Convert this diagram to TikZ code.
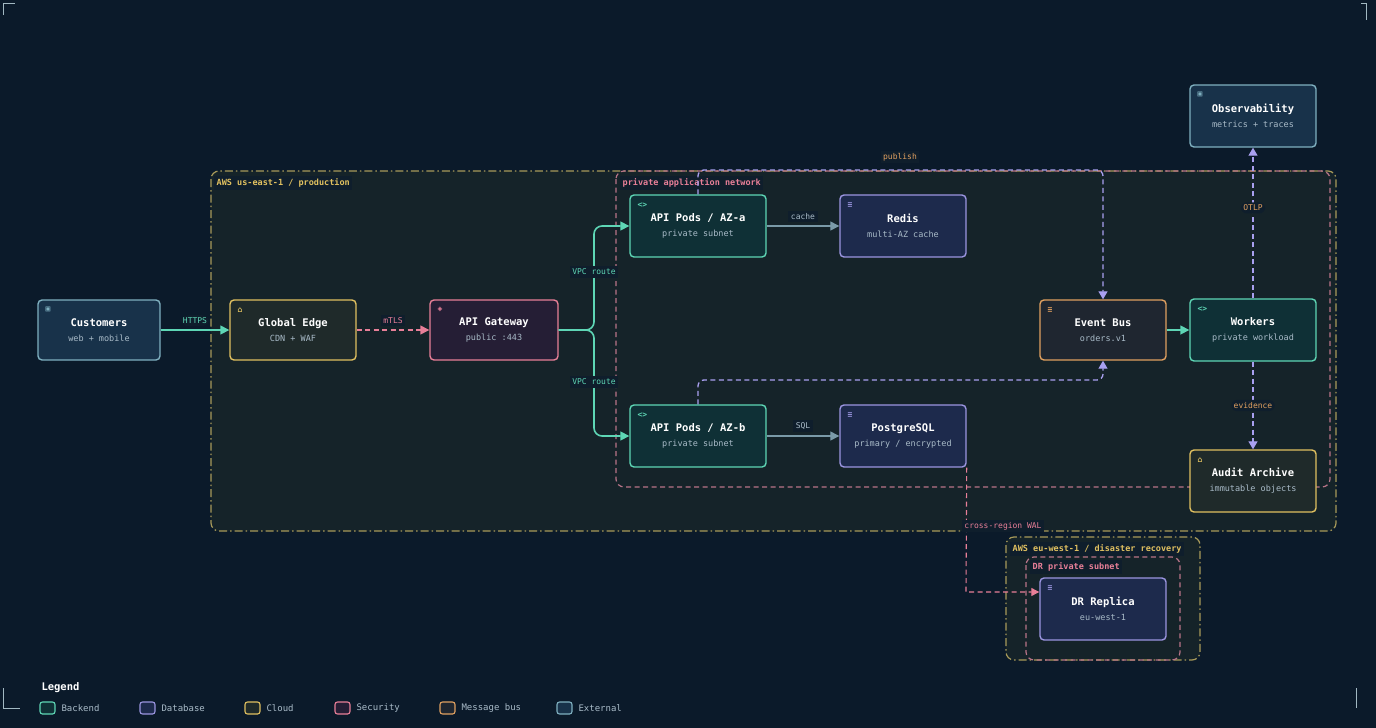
\documentclass[tikz,border=0pt]{standalone}
\usepackage{fontspec}
\setmonofont{DejaVu Sans Mono}
\usetikzlibrary{arrows.meta}
\usetikzlibrary{backgrounds}
\definecolor{bg}{HTML}{0B1A2A}
\definecolor{zone}{HTML}{152329}
\definecolor{lblbg}{HTML}{0F1E2C}
\definecolor{bkS}{HTML}{5ED6B5}\definecolor{bkF}{HTML}{0F3036}
\definecolor{dbS}{HTML}{9B95E0}\definecolor{dbF}{HTML}{1D2A4C}
\definecolor{clS}{HTML}{E0C060}\definecolor{clF}{HTML}{1F2A2A}
\definecolor{seS}{HTML}{E87F98}\definecolor{seF}{HTML}{251E35}
\definecolor{mbS}{HTML}{E0A060}\definecolor{mbF}{HTML}{1F2630}
\definecolor{exS}{HTML}{7FB0C0}\definecolor{exF}{HTML}{18324A}
\definecolor{linkS}{HTML}{7A9AA8}
\definecolor{evS}{HTML}{A9A0F0}
\definecolor{subT}{HTML}{A9BBC8}
\definecolor{zoneY}{HTML}{A89A5A}
\definecolor{zoneP}{HTML}{B87488}
\tikzset{
  box/.style={draw, rounded corners=4pt, line width=1.4pt, minimum width=#1, minimum height=60pt, align=center, text=white, font=\ttfamily\fontsize{10.5}{12}\selectfont\bfseries},
  box/.default=126pt,
  backend/.style={box=136pt, minimum height=62pt, draw=bkS, fill=bkF},
  database/.style={box, minimum height=62pt, draw=dbS, fill=dbF},
  cloud/.style={box, draw=clS, fill=clF},
  security/.style={box=128pt, draw=seS, fill=seF},
  msgbus/.style={box, draw=mbS, fill=mbF},
  external/.style={box=122pt, draw=exS, fill=exF},
  lbl/.style={fill=lblbg, inner sep=2.5pt, font=\ttfamily\fontsize{8}{9}\selectfont},
  zonelbl/.style={fill=lblbg, inner sep=2.5pt, anchor=north west, font=\ttfamily\fontsize{8.5}{10}\selectfont\bfseries},
  dsh/.style={dash pattern=on 5pt off 3.5pt},
  dshdot/.style={dash pattern=on 8pt off 3pt on 1.5pt off 3pt},
  flow/.style={line width=1.6pt, draw=bkS, -{Triangle[length=9pt,width=9pt]}, rounded corners=8pt},
  event/.style={line width=1.3pt, draw=evS, dsh, -{Triangle[length=8pt,width=9pt]}, rounded corners=6pt},
  icon/.style={font=\ttfamily\fontsize{8}{8}\selectfont\bfseries, inner sep=0pt}
}
\newcommand{\sub}[1]{\\[3pt]{\fontsize{8.5}{10}\selectfont\mdseries\color{subT}#1}}
\begin{document}
\begin{tikzpicture}[x=1pt,y=-1pt]
  \fill[bg] (0,0) rectangle (1376,728);
  \useasboundingbox (0,0) rectangle (1376,728);
  % frame corners
  \draw[linkS!70, line width=0.6pt] (3,15) -- (3,3) -- (15,3);
  \draw[linkS!70, line width=0.6pt] (1361,3) -- (1366,3) -- (1366,20);
  \draw[linkS!70, line width=0.6pt] (3,688) -- (3,708) -- (20,708);
  \draw[linkS!70, line width=0.6pt] (1356,708) -- (1356,688);
  % zones
  \draw[zoneY, fill=zone, line width=1.2pt, dshdot, rounded corners=8pt] (211,171) rectangle (1336,531);
  \draw[zoneP, line width=1.2pt, dsh, rounded corners=8pt] (616,171) rectangle (1330,487);
  \draw[zoneY, fill=zone, line width=1.2pt, dshdot, rounded corners=8pt] (1006,537) rectangle (1200,660);
  \draw[zoneP, line width=1.2pt, dsh, rounded corners=8pt] (1026,557) rectangle (1180,660);
  \node[zonelbl, text=clS] (zprod) at (214,176) {AWS us-east-1 / production};
  \node[zonelbl, text=seS] (zpriv) at (620,176) {private application network};
  \node[zonelbl, text=clS] (zdr) at (1010,542) {AWS eu-west-1 / disaster recovery};
  \node[zonelbl, text=seS] (zdrsub) at (1030,560) {DR private subnet};

  % nodes
  \node[external] (cust) at (99,330) {Customers\sub{web + mobile}};
  \node[cloud] (edge) at (293,330) {Global Edge\sub{CDN + WAF}};
  \node[security] (gw) at (494,330) {API Gateway\sub{public :443}};
  \node[backend] (poda) at (698,226) {API Pods / AZ-a\sub{private subnet}};
  \node[database] (redis) at (903,226) {Redis\sub{multi-AZ cache}};
  \node[backend] (podb) at (698,436) {API Pods / AZ-b\sub{private subnet}};
  \node[database] (pg) at (903,436) {PostgreSQL\sub{primary / encrypted}};
  \node[msgbus] (bus) at (1103,330) {Event Bus\sub{orders.v1}};
  \node[backend, minimum width=126pt] (work) at (1253,330) {Workers\sub{private workload}};
  \node[external, minimum width=126pt, minimum height=62pt] (obs) at (1253,116) {Observability\sub{metrics + traces}};
  \node[cloud, minimum height=62pt] (audit) at (1253,481) {Audit Archive\sub{immutable objects}};
  \node[database] (dr) at (1103,609) {DR Replica\sub{eu-west-1}};

  % icons
  \foreach \n/\c/\g in {cust/exS/{\char"25A3}, edge/clS/{\char"2302}, gw/seS/{\char"25C8}, poda/bkS/{<>}, redis/dbS/{\char"2261}, podb/bkS/{<>}, pg/dbS/{\char"2261}, bus/mbS/{\char"2261}, work/bkS/{<>}, obs/exS/{\char"25A3}, audit/clS/{\char"2302}, dr/dbS/{\char"2261}}
    \node[icon, text=\c, anchor=north west] at ([shift={(8pt,-8pt)}]\n.north west) {\g};

  % connectors
  \draw[flow] (cust) -- node[lbl, text=bkS, above=3pt] {HTTPS} (edge);
  \draw[line width=1.4pt, draw=seS, dsh, -{Triangle[length=9pt,width=9pt]}] (edge) -- node[lbl, text=seS, above=3pt] {mTLS} (gw);
  \draw[flow] (gw.east) -| (594,280) |- (poda.west);
  \draw[flow] (gw.east) -| (594,380) |- (podb.west);
  \node[lbl, text=bkS] (lvpca) at (594,272) {VPC route};
  \node[lbl, text=bkS] (lvpcb) at (594,382) {VPC route};
  \draw[line width=1.3pt, draw=linkS, -{Triangle[length=9pt,width=9pt]}] (poda) -- node[lbl, text=subT, above=3pt] {cache} (redis);
  \draw[line width=1.3pt, draw=linkS, -{Triangle[length=9pt,width=9pt]}] (podb) -- node[lbl, text=subT, above=3pt] {SQL} (pg);
  \draw[event] (poda.north) |- (bus.north |- 0,170) -- (bus.north);
  \node[lbl, text=mbS] (lpub) at (900,157) {publish};
  \draw[event] (podb.north) |- (bus.south |- 0,380) -- (bus.south);
  \draw[flow] (bus) -- (work);
  \draw[event] (work) -- node[lbl, text=mbS, pos=0.6] {OTLP} (obs);
  \draw[event] (work) -- node[lbl, text=mbS, pos=0.5] {evidence} (audit);
  \draw[line width=1.1pt, draw=seS, dsh, -{Triangle[length=8pt,width=8pt]}] (pg.south east) -- (966,592) -- (dr.west |- 0,592);
  \node[lbl, text=seS] (lwal) at (1003,526) {cross-region WAL};

  % legend
  \node[anchor=west, text=white, font=\ttfamily\fontsize{10.5}{12}\selectfont\bfseries] (leg) at (38,688) {Legend};
  \foreach \s/\f/\t/\x in {bkS/bkF/Backend/40, dbS/dbF/Database/140, clS/clF/Cloud/245, seS/seF/Security/335, mbS/mbF/Message bus/440, exS/exF/External/557} {
    \draw[\s, fill=\f, line width=1.1pt, rounded corners=2.5pt] (\x,702) rectangle ++(15,12);
    \node[anchor=west, text=subT, font=\ttfamily\fontsize{9}{10}\selectfont] at (\x+18,708) {\t};
  }
\end{tikzpicture}
\end{document}
